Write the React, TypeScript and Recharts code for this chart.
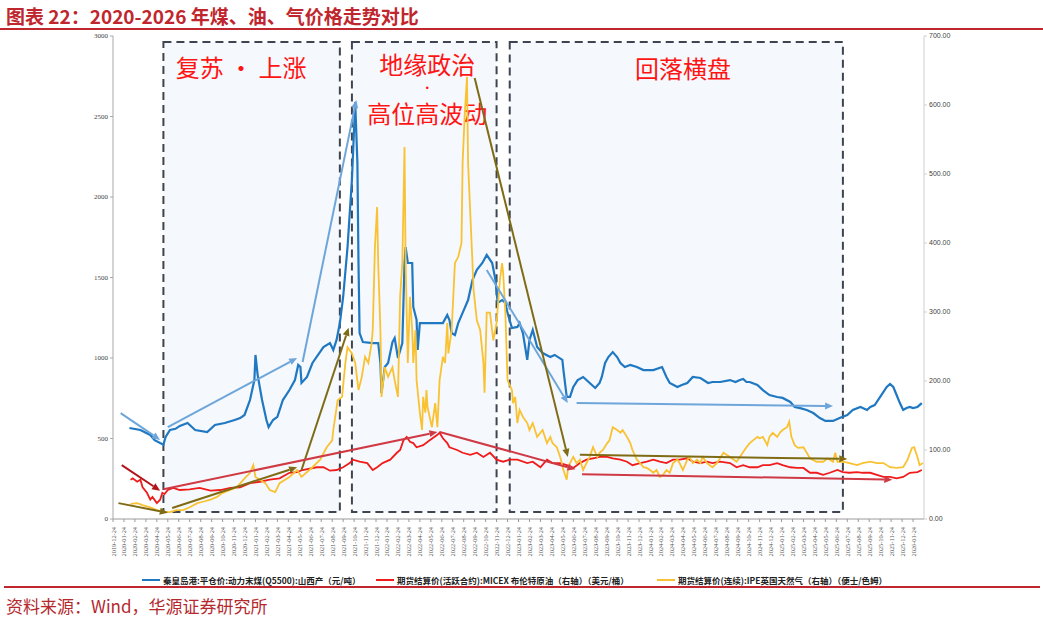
import React from 'react';
import { LineChart, Line, XAxis, YAxis, ReferenceArea, ReferenceLine } from 'recharts';

// x is months counted from 2019-12-24
const tickLabels = Array.from({ length: 74 }, (_, i) => {
  const year = 2019 + Math.floor((11 + i) / 12);
  const month = ((11 + i) % 12) + 1;
  return `${year}-${String(month).padStart(2, '0')}-24`;
});
const xTicks = tickLabels.map((_, i) => i);
const leftTicks = [0, 500, 1000, 1500, 2000, 2500, 3000];
const rightTicks = [0, 100, 200, 300, 400, 500, 600, 700];

// 秦皇岛港 动力末煤 (元/吨), left axis
const coal: [number, number][] = [
  [1.5, 565], [2.5, 553], [3.4, 522], [3.8, 490], [4.3, 472], [4.6, 462], [4.8, 510], [5.2, 553],
  [5.7, 560], [6.1, 578], [6.8, 596], [7.5, 553], [8.6, 540], [9.3, 584], [10.2, 596], [11.1, 615],
  [11.6, 627], [12.0, 646], [12.5, 739], [12.9, 863], [13.0, 1019], [13.2, 894], [13.6, 739], [14.0, 615],
  [14.2, 571], [14.6, 615], [15.0, 634], [15.5, 739], [16.1, 801], [16.6, 863], [16.9, 957], [17.1, 944],
  [17.2, 845], [17.7, 882], [18.2, 969], [19.2, 1068], [19.8, 1093], [20.1, 1050], [20.4, 1112], [20.7, 1217],
  [21.0, 1379], [21.4, 1689], [21.8, 2106], [22.1, 2590], [22.3, 2211], [22.4, 1590], [22.5, 1155], [22.8, 1099],
  [23.7, 1093], [24.2, 1093], [24.4, 969], [24.5, 783], [24.8, 944], [25.1, 969], [25.5, 1099], [25.7, 1124],
  [26.0, 1000], [26.4, 1093], [26.6, 1590], [26.7, 1689], [26.9, 1590], [27.3, 1590], [27.4, 1317], [27.7, 1236],
  [27.8, 1050], [28.0, 1217], [28.6, 1217], [30.1, 1217], [30.5, 1267], [30.7, 1236], [30.9, 1155], [31.2, 1143],
  [31.5, 1217], [31.9, 1280], [32.4, 1360], [32.8, 1484], [33.2, 1547], [33.7, 1590], [34.1, 1640], [34.6, 1590],
  [34.9, 1484], [35.1, 1342], [35.5, 1360], [35.8, 1342], [36.0, 1280], [36.4, 1186], [36.9, 1193], [37.1, 1217],
  [37.4, 1155], [37.8, 988], [38.0, 1112], [38.3, 1174], [38.7, 1068], [39.2, 1031], [39.9, 1006], [40.3, 1019],
  [41.0, 988], [41.1, 925], [41.4, 758], [41.7, 758], [42.0, 820], [42.4, 863], [42.9, 882], [43.5, 845],
  [44.0, 814], [44.4, 845], [44.6, 882], [44.9, 969], [45.2, 1006], [45.6, 1037], [46.0, 1006], [46.3, 969],
  [46.7, 944], [47.2, 957], [47.8, 944], [48.4, 925], [49.3, 925], [50.1, 944], [50.5, 882], [50.8, 845],
  [51.5, 820], [51.9, 832], [52.4, 845], [52.9, 882], [53.6, 876], [54.3, 845], [54.7, 851], [55.4, 851],
  [56.3, 863], [56.8, 851], [57.2, 863], [57.5, 870], [57.8, 851], [58.1, 851], [58.8, 832], [59.3, 801],
  [59.9, 770], [60.6, 758], [61.1, 752], [61.8, 727], [62.2, 696], [62.7, 689], [63.3, 677], [63.9, 658],
  [64.5, 627], [65.0, 609], [65.7, 609], [66.3, 627], [67.0, 646], [67.5, 677], [68.2, 696], [68.8, 677],
  [69.1, 696], [69.5, 708], [70.0, 758], [70.3, 789], [70.6, 820], [70.9, 839], [71.2, 820], [71.5, 770],
  [71.8, 720], [72.1, 677], [72.4, 689], [72.7, 696], [73.0, 689], [73.4, 696], [73.8, 720],
];

// MICEX 布伦特原油 (美元/桶), right axis
const brent: [number, number][] = [
  [1.6, 57], [1.8, 59], [2.2, 54], [2.5, 57], [2.7, 46], [3.1, 38], [3.4, 28], [3.6, 32],
  [4.0, 23], [4.3, 28], [4.5, 38], [4.7, 36], [5.0, 42], [5.5, 45], [6.1, 42], [7.0, 43],
  [7.9, 45], [8.9, 41], [9.8, 42], [10.7, 45], [11.6, 46], [12.5, 52], [13.4, 54], [14.3, 57],
  [15.2, 59], [16.1, 67], [16.8, 68], [17.3, 71], [18.6, 75], [19.2, 75], [19.8, 70], [20.4, 71],
  [21.0, 75], [21.6, 81], [21.9, 86], [22.5, 83], [23.2, 81], [23.7, 71], [24.1, 75], [24.6, 81],
  [25.3, 86], [25.9, 96], [26.2, 100], [26.5, 114], [26.8, 119], [27.1, 112], [27.4, 110], [27.7, 104],
  [28.3, 107], [28.9, 114], [29.6, 122], [29.8, 125], [30.1, 117], [30.5, 110], [30.7, 104], [31.4, 100],
  [31.9, 96], [32.6, 93], [33.2, 96], [33.8, 90], [34.4, 96], [35.0, 86], [35.6, 83], [36.2, 86],
  [36.9, 86], [37.8, 81], [38.3, 83], [39.0, 75], [39.6, 86], [40.1, 81], [40.8, 81], [41.4, 78],
  [42.0, 74], [42.6, 81], [43.2, 86], [43.8, 88], [44.4, 90], [45.1, 90], [45.6, 88], [46.3, 86],
  [46.9, 83], [47.4, 78], [48.1, 81], [48.7, 83], [49.3, 86], [49.9, 83], [50.5, 81], [51.1, 86],
  [51.7, 86], [52.4, 88], [52.9, 83], [53.6, 81], [54.2, 83], [54.7, 81], [55.4, 83], [56.3, 81],
  [56.9, 75], [57.5, 78], [58.1, 75], [58.8, 75], [59.3, 78], [59.9, 78], [60.6, 81], [61.1, 78],
  [61.8, 75], [62.4, 74], [63.0, 74], [63.6, 67], [64.2, 67], [64.8, 64], [65.4, 67], [66.1, 71],
  [66.6, 68], [67.2, 67], [67.9, 68], [68.4, 67], [69.1, 67], [69.7, 64], [70.3, 61], [70.9, 61],
  [71.5, 59], [72.1, 61], [72.7, 67], [73.4, 68], [73.8, 71],
];

// IPE 英国天然气 (便士/色姆), right axis
const ukGas: [number, number][] = [
  [1.6, 22], [2.2, 23], [2.7, 20], [3.4, 17], [4.0, 13], [4.6, 10], [5.2, 10], [5.8, 13],
  [6.4, 13], [7.0, 17], [7.7, 23], [8.2, 25], [8.9, 28], [9.5, 32], [10.0, 38], [10.7, 42],
  [11.3, 46], [11.9, 57], [12.5, 67], [12.8, 78], [13.0, 61], [13.4, 57], [13.9, 52], [14.3, 42],
  [14.8, 39], [15.2, 52], [15.7, 57], [16.1, 61], [16.8, 71], [17.2, 61], [17.7, 68], [18.2, 75],
  [18.9, 86], [19.5, 104], [20.0, 114], [20.1, 129], [20.5, 172], [20.9, 177], [21.2, 226], [21.4, 249],
  [21.8, 240], [22.1, 226], [22.4, 187], [22.7, 206], [23.0, 235], [23.3, 226], [23.6, 255], [23.7, 274],
  [23.9, 394], [24.1, 452], [24.2, 371], [24.4, 274], [24.5, 177], [24.8, 220], [25.1, 206], [25.5, 220],
  [25.7, 201], [26.0, 177], [26.2, 322], [26.4, 371], [26.6, 539], [26.7, 371], [26.9, 226], [27.1, 322],
  [27.3, 274], [27.4, 226], [27.6, 274], [27.7, 201], [28.0, 154], [28.2, 129], [28.3, 177], [28.5, 154],
  [28.6, 187], [28.7, 162], [29.1, 133], [29.4, 168], [29.6, 133], [29.8, 201], [30.1, 235], [30.3, 226],
  [30.5, 284], [30.6, 240], [30.9, 274], [31.2, 371], [31.5, 380], [31.8, 400], [31.9, 516], [32.1, 588],
  [32.3, 641], [32.4, 516], [32.6, 443], [32.8, 371], [32.9, 332], [33.2, 288], [33.5, 274], [33.8, 226],
  [33.9, 183], [34.1, 299], [34.4, 299], [34.7, 259], [35.0, 284], [35.3, 346], [35.5, 371], [35.6, 357],
  [35.8, 299], [36.0, 201], [36.4, 187], [36.5, 168], [36.7, 177], [36.9, 139], [37.1, 158], [37.4, 148],
  [37.8, 139], [38.0, 129], [38.3, 139], [38.7, 119], [39.0, 125], [39.2, 129], [39.6, 110], [39.9, 119],
  [40.1, 110], [40.5, 104], [40.8, 90], [41.1, 71], [41.4, 57], [41.5, 71], [41.7, 81], [42.0, 90],
  [42.3, 81], [42.6, 86], [42.9, 71], [43.2, 81], [43.5, 90], [43.8, 104], [44.2, 90], [44.4, 96],
  [44.7, 100], [45.1, 110], [45.3, 114], [45.6, 133], [46.0, 129], [46.3, 125], [46.5, 129], [46.9, 119],
  [47.2, 110], [47.4, 100], [47.8, 86], [48.1, 81], [48.4, 75], [48.7, 74], [49.0, 71], [49.3, 67],
  [49.6, 71], [49.9, 61], [50.2, 64], [50.5, 71], [50.8, 67], [51.1, 81], [51.5, 86], [51.7, 81],
  [52.0, 71], [52.4, 86], [52.6, 90], [52.9, 81], [53.3, 86], [53.6, 81], [53.8, 90], [54.2, 81],
  [54.7, 75], [55.1, 81], [55.7, 96], [56.3, 90], [56.9, 83], [57.2, 90], [57.5, 97], [57.8, 104],
  [58.1, 110], [58.4, 114], [58.8, 119], [59.0, 117], [59.3, 119], [59.7, 107], [59.9, 119], [60.2, 125],
  [60.6, 119], [60.9, 126], [61.1, 129], [61.5, 133], [61.7, 141], [61.9, 119], [62.2, 107], [62.5, 103],
  [63.0, 104], [63.3, 96], [63.6, 88], [64.2, 83], [64.8, 83], [65.2, 88], [65.7, 83], [65.9, 96],
  [66.1, 83], [66.6, 83], [67.2, 81], [67.9, 78], [68.4, 81], [69.1, 83], [69.7, 81], [70.3, 81],
  [70.9, 75], [71.5, 74], [72.1, 75], [72.5, 86], [72.9, 103], [73.1, 104], [73.4, 90], [73.6, 78],
  [73.9, 81],
];

// phase boxes: [x1, x2] in months, left-axis value span
const phaseBoxes = [
  { x1: 4.6, x2: 20.7, lines: ['复苏 · 上涨'], at: 0.44, offsets: [25] },
  { x1: 21.8, x2: 35.0, lines: ['地缘政治', '·', '高位高波动'], at: 0.52, offsets: [22, 46, 71] },
  { x1: 36.2, x2: 66.6, lines: ['回落横盘'], at: 0.52, offsets: [26] },
];
const boxLow = 43;
const boxHigh = 2963;

// trend arrows: [m1, v1, m2, v2]
const coalArrows: [number, number, number, number][] = [
  [0.7, 658, 4.3, 491],
  [5.0, 571, 16.8, 1000],
  [17.3, 975, 22.2, 2602],
  [34.1, 1547, 41.5, 720],
  [42.3, 720, 65.7, 702],
];
const gasArrows: [number, number, number, number][] = [
  [0.5, 23, 5.0, 9],
  [5.4, 16, 16.8, 75],
  [17.2, 71, 21.5, 277],
  [33.0, 639, 41.5, 90],
  [42.6, 93, 67.0, 87],
];
const oilArrows: [number, number, number, number][] = [
  [0.8, 78, 4.3, 41],
  [4.6, 43, 29.6, 126],
  [29.8, 126, 42.2, 72],
  [42.8, 65, 71.1, 57],
];

const seriesNames = [
  { name: '秦皇岛港:平仓价:动力末煤(Q5500):山西产（元/吨）', color: '#1f78c1' },
  { name: '期货结算价(活跃合约):MICEX 布伦特原油（右轴）（美元/桶）', color: '#f01c1c' },
  { name: '期货结算价(连续):IPE英国天然气（右轴）（便士/色姆）', color: '#f9c232' },
];

const toRows = (pts: [number, number][]) => pts.map(([m, v]) => ({ m, v }));

const arrowShape = (color: string, width: number) => (props: any) => {
  const { x1, y1, x2, y2 } = props;
  const ang = Math.atan2(y2 - y1, x2 - x1);
  const len = 8;
  const half = 3.5;
  const bx = x2 - len * Math.cos(ang);
  const by = y2 - len * Math.sin(ang);
  const pts = [
    `${x2},${y2}`,
    `${bx + half * Math.sin(ang)},${by - half * Math.cos(ang)}`,
    `${bx - half * Math.sin(ang)},${by + half * Math.cos(ang)}`,
  ].join(' ');
  return (
    <g>
      <line x1={x1} y1={y1} x2={bx} y2={by} stroke={color} strokeWidth={width} />
      <polygon points={pts} fill={color} />
    </g>
  );
};

const XTick = (props: any) => {
  const { x, y, payload } = props;
  return (
    <g transform={`translate(${x},${y + 3})`}>
      <text transform="rotate(-90)" textAnchor="end" dy={2.5} fontSize={6.3} fill="#555" fontFamily="Liberation Serif">
        {tickLabels[payload.value]}
      </text>
    </g>
  );
};

const boxLabel = (box: (typeof phaseBoxes)[number]) => (props: any) => {
  const vb = props.viewBox;
  if (!vb) return null;
  const cx = vb.x + vb.width * box.at;
  return (
    <g>
      {box.lines.map((t, i) => (
        <text
          key={t}
          x={cx}
          y={vb.y + box.offsets[i]}
          textAnchor="middle"
          dominantBaseline="central"
          fontSize={t === '·' ? 10 : 24}
          fontWeight={t === '·' ? 700 : 400}
          fill="#ff1414"
          fontFamily="'Noto Sans CJK SC', sans-serif"
        >
          {t}
        </text>
      ))}
    </g>
  );
};

export default function App() {
  return (
    <div style={{ position: 'absolute', left: 0, top: 0, width: 1043, height: 620, background: '#fff', overflow: 'hidden' }}>
      <div
        style={{
          position: 'absolute', left: 6, top: 2, fontSize: 19, fontWeight: 700, color: '#c0262d',
          fontFamily: "'Noto Sans CJK SC', sans-serif", whiteSpace: 'nowrap',
        }}
      >
        图表 22：2020-2026 年煤、油、气价格走势对比
      </div>
      <div style={{ position: 'absolute', left: 0, top: 28, width: 1043, height: 2, background: '#c0262d' }} />

      <div style={{ position: 'absolute', left: 0, top: 0 }}>
        <LineChart width={1043} height={575} margin={{ top: 36, right: 69, left: 73, bottom: 6 }}>
          <XAxis
            dataKey="m"
            type="number"
            domain={[0, 74]}
            ticks={xTicks}
            interval={0}
            tick={<XTick />}
            tickSize={3}
            height={50}
            stroke="#9a9a9a"
            allowDataOverflow
          />
          <YAxis
            yAxisId="left"
            domain={[0, 3000]}
            ticks={leftTicks}
            width={40}
            tickSize={3}
            tick={{ fontSize: 7, fill: '#444', fontFamily: 'Liberation Serif' }}
            stroke="#a8a8a8"
          />
          <YAxis
            yAxisId="right"
            orientation="right"
            domain={[0, 700]}
            ticks={rightTicks}
            width={50}
            tickSize={3}
            tickFormatter={(v: number) => v.toFixed(2)}
            tick={{ fontSize: 7, fill: '#444', fontFamily: 'Liberation Sans' }}
            stroke="#cfcfcf"
          />
          {phaseBoxes.map((b) => (
            <ReferenceArea
              key={b.x1}
              yAxisId="left"
              x1={b.x1}
              x2={b.x2}
              y1={boxLow}
              y2={boxHigh}
              fill="#f5f8fc"
              fillOpacity={1}
              stroke="#3e4551"
              strokeWidth={2}
              strokeDasharray="8 5"
              label={boxLabel(b)}
            />
          ))}
          <Line yAxisId="left" data={toRows(coal)} dataKey="v" type="linear" stroke={seriesNames[0].color} strokeWidth={2.2} dot={false} isAnimationActive={false} />
          <Line yAxisId="right" data={toRows(brent)} dataKey="v" type="linear" stroke={seriesNames[1].color} strokeWidth={1.8} dot={false} isAnimationActive={false} />
          <Line yAxisId="right" data={toRows(ukGas)} dataKey="v" type="linear" stroke={seriesNames[2].color} strokeWidth={1.8} dot={false} isAnimationActive={false} />
          {coalArrows.map((a, i) => (
            <ReferenceLine
              key={`c${i}`}
              yAxisId="left"
              segment={[{ x: a[0], y: a[1] }, { x: a[2], y: a[3] }]}
              shape={arrowShape('#6ea6da', 2)}
            />
          ))}
          {gasArrows.map((a, i) => (
            <ReferenceLine
              key={`g${i}`}
              yAxisId="right"
              segment={[{ x: a[0], y: a[1] }, { x: a[2], y: a[3] }]}
              shape={arrowShape('#7f6b14', 2)}
            />
          ))}
          {oilArrows.map((a, i) => (
            <ReferenceLine
              key={`o${i}`}
              yAxisId="right"
              segment={[{ x: a[0], y: a[1] }, { x: a[2], y: a[3] }]}
              shape={arrowShape(i === 0 ? '#b3141c' : '#cf3a45', 2)}
            />
          ))}
        </LineChart>
      </div>

      {seriesNames.map((s, i) => (
        <div
          key={s.name}
          style={{
            position: 'absolute', left: [142, 376, 657][i], top: 574, display: 'flex', alignItems: 'center',
            fontSize: 8.5, fontWeight: 700, color: '#222', fontFamily: "'Noto Sans CJK SC', serif", whiteSpace: 'nowrap',
          }}
        >
          <span style={{ display: 'inline-block', width: 18, height: 2.5, background: s.color, marginRight: 3 }} />
          {s.name}
        </div>
      ))}
      <div style={{ position: 'absolute', left: 4, top: 586, width: 1036, height: 2, background: '#c0262d' }} />
      <div
        style={{
          position: 'absolute', left: 6, top: 593, fontSize: 17, color: '#b4282e',
          fontFamily: "'Noto Sans CJK SC', sans-serif", whiteSpace: 'nowrap',
        }}
      >
        资料来源：Wind，华源证券研究所
      </div>
    </div>
  );
}
